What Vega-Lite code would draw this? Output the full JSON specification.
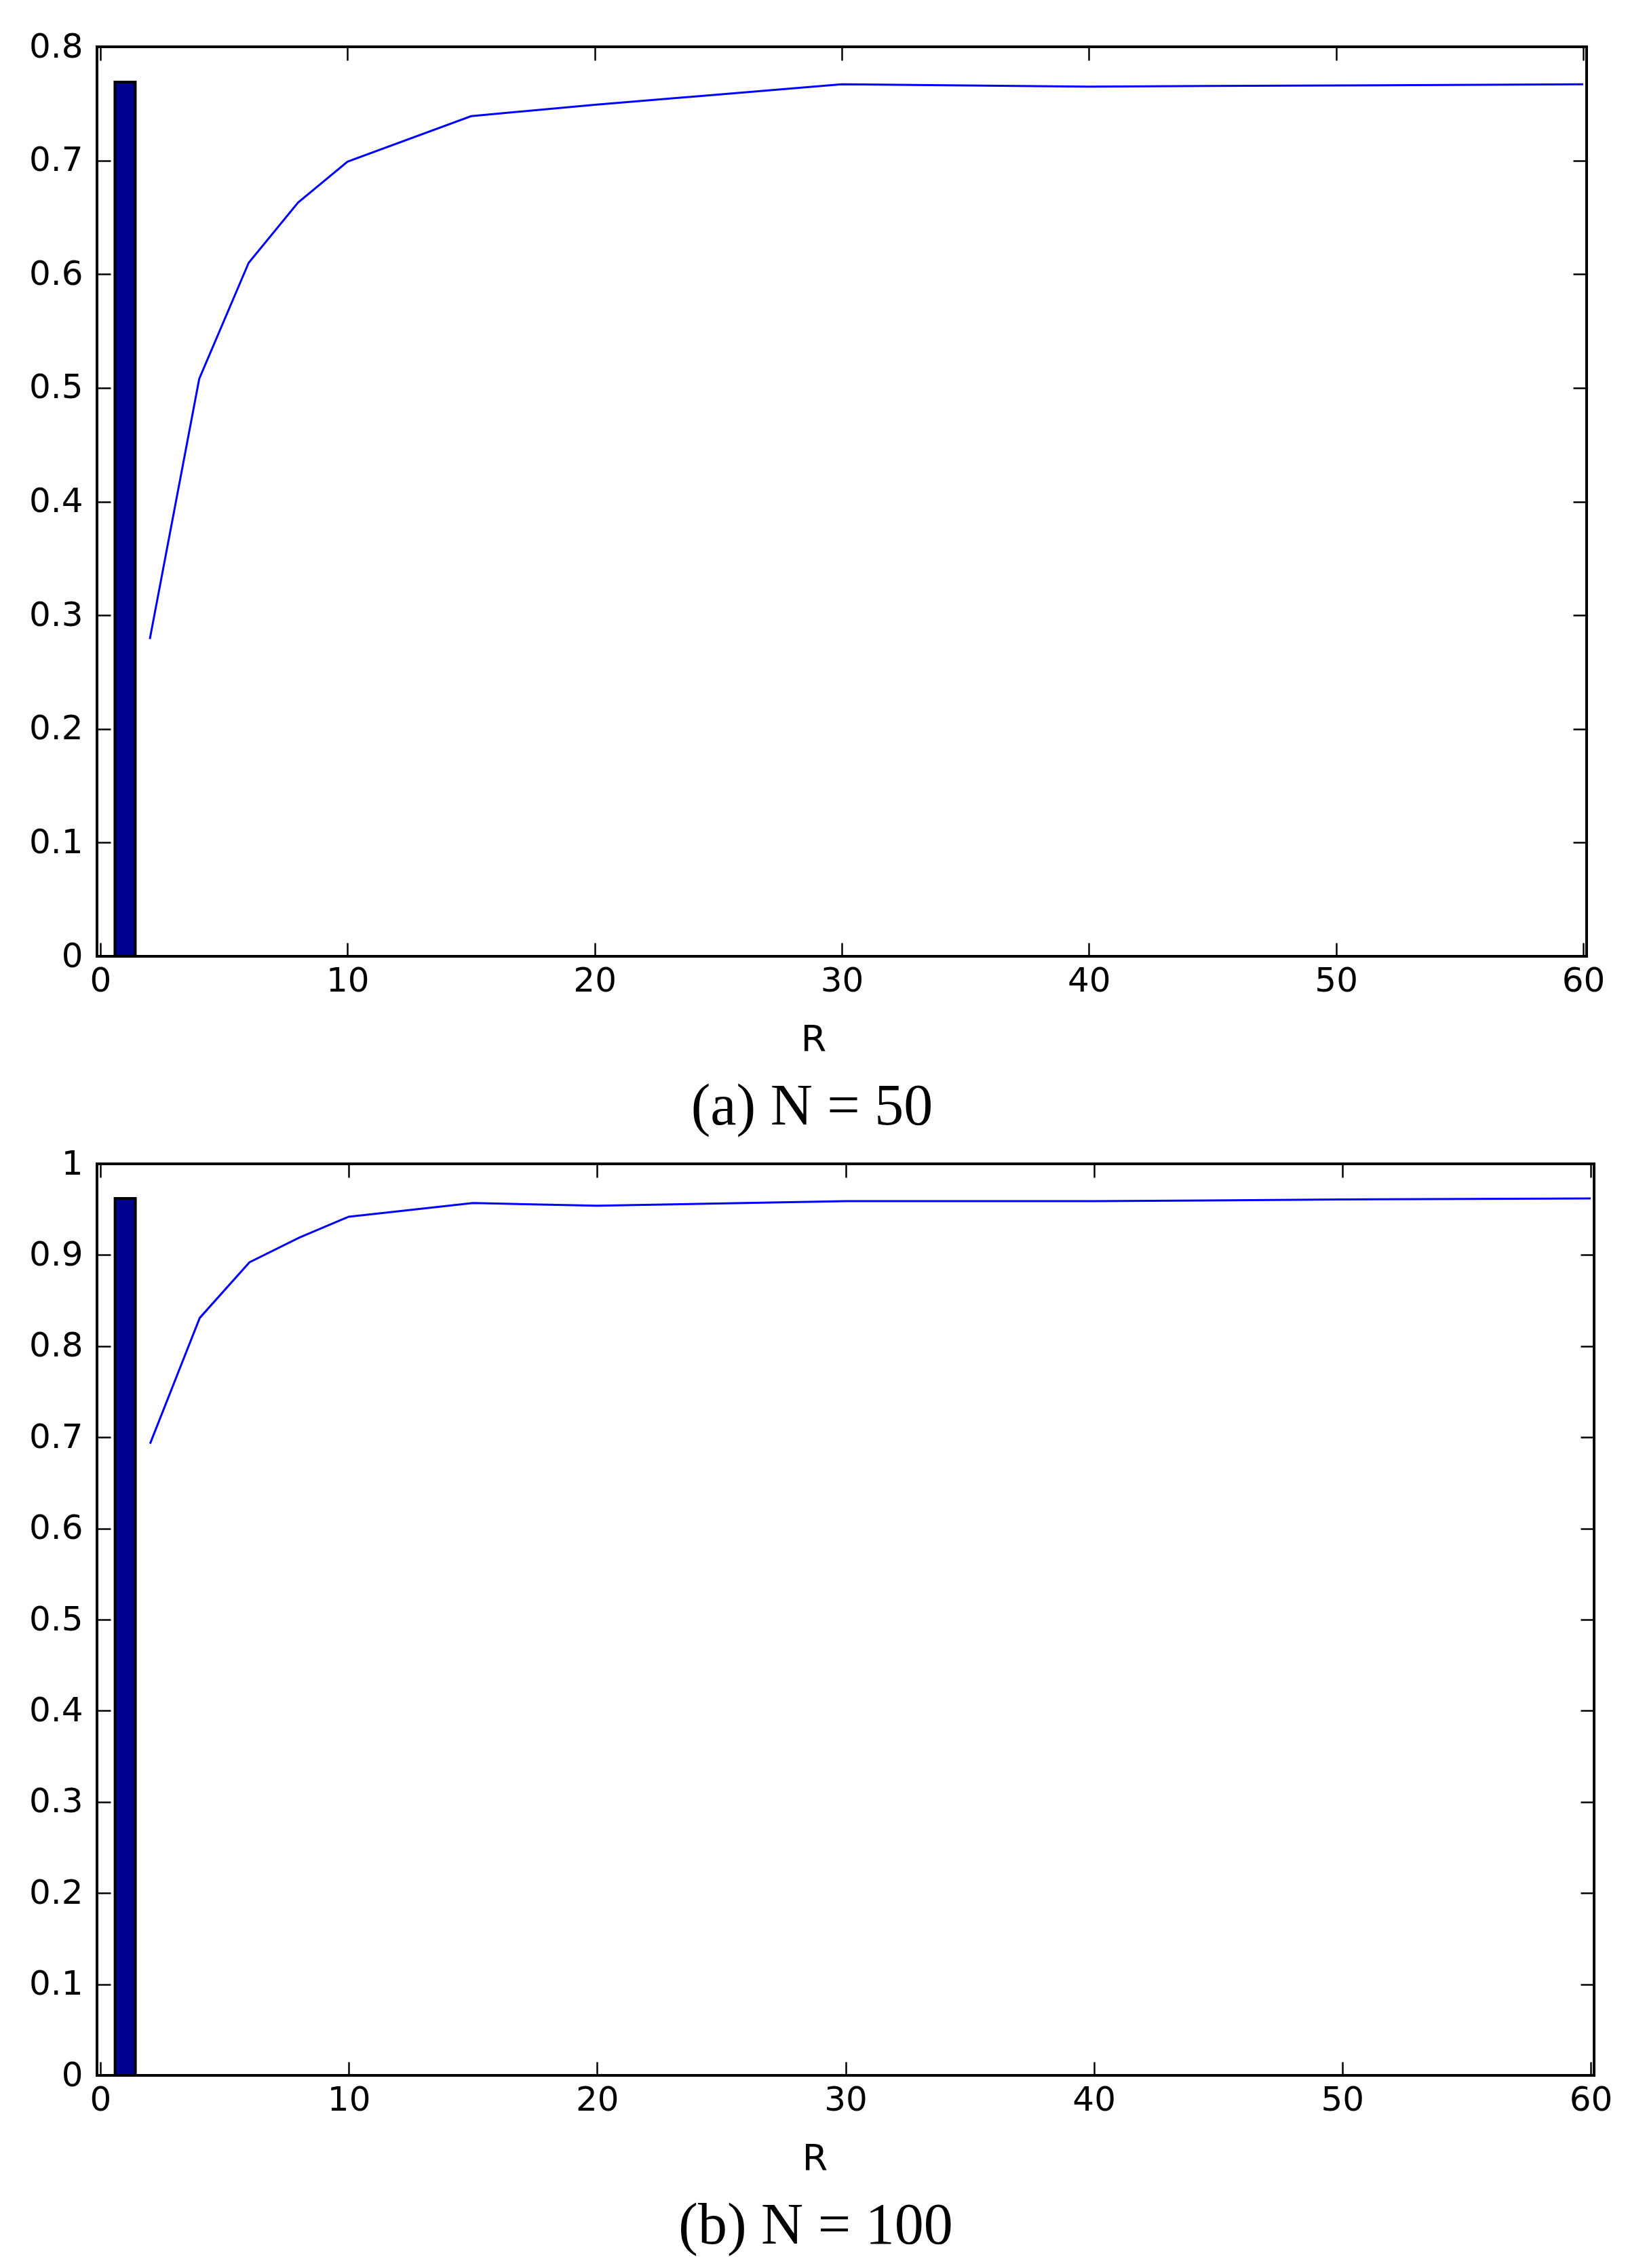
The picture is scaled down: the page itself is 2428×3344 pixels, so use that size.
{
  "$schema": "https://vega.github.io/schema/vega-lite/v6.json",
  "padding": {"left": 40, "top": 42, "right": 10, "bottom": 10},
  "background": "white",
  "spacing": 12,
  "config": {
    "view": {"stroke": "black", "strokeWidth": 4},
    "axis": {
      "domain": false,
      "grid": false,
      "ticks": true,
      "tickColor": "black",
      "tickWidth": 2.5,
      "tickSize": -20,
      "labelFont": "DejaVu Sans",
      "labelFontSize": 50,
      "labelColor": "black",
      "labelPadding": 41,
      "labelFlush": false,
      "format": "~f",
      "titleFont": "DejaVu Sans",
      "titleFontSize": 54,
      "titleFontWeight": "normal",
      "titleColor": "black"
    },
    "axisBottom": {"labelPadding": 31},
    "title": {"font": "Liberation Serif", "fontSize": 86, "fontWeight": "normal", "color": "black", "orient": "bottom", "offset": 30, "dx": -44}
  },
  "datasets": {
    "a_bar": [{"R": 1, "v": 0.769}],
    "a_curve": [
      {"R": 2, "v": 0.279},
      {"R": 4, "v": 0.508},
      {"R": 6, "v": 0.61},
      {"R": 8, "v": 0.663},
      {"R": 10, "v": 0.699},
      {"R": 15, "v": 0.739},
      {"R": 20, "v": 0.749},
      {"R": 30, "v": 0.767},
      {"R": 40, "v": 0.765},
      {"R": 50, "v": 0.766},
      {"R": 60, "v": 0.767}
    ],
    "b_bar": [{"R": 1, "v": 0.962}],
    "b_curve": [
      {"R": 2, "v": 0.693},
      {"R": 4, "v": 0.831},
      {"R": 6, "v": 0.892},
      {"R": 8, "v": 0.919},
      {"R": 10, "v": 0.942},
      {"R": 15, "v": 0.957},
      {"R": 20, "v": 0.954},
      {"R": 30, "v": 0.959},
      {"R": 40, "v": 0.959},
      {"R": 50, "v": 0.961},
      {"R": 60, "v": 0.962}
    ]
  },
  "vconcat": [
    {
      "width": 2196,
      "height": 1341,
      "title": {"text": "(a) N = 50"},
      "resolve": {"axis": {"x": "independent", "y": "independent"}},
      "layer": [
        {
          "data": {"name": "a_bar"},
          "mark": {"type": "bar", "orient": "vertical", "width": 30, "color": "#00008F", "stroke": "black", "strokeWidth": 4},
          "encoding": {
            "x": {"field": "R", "type": "quantitative", "scale": {"domain": [0, 60], "nice": false},
              "axis": {"values": [0, 10, 20, 30, 40, 50, 60], "title": "R", "titleX": 1056, "titlePadding": 35}},
            "y": {"field": "v", "type": "quantitative", "scale": {"domain": [0, 0.8], "nice": false},
              "axis": {"values": [0, 0.1, 0.2, 0.3, 0.4, 0.5, 0.6, 0.7, 0.8], "title": null}}
          }
        },
        {
          "data": {"name": "a_curve"},
          "mark": {"type": "line", "color": "#0000FF", "strokeWidth": 3},
          "encoding": {
            "x": {"field": "R", "type": "quantitative",
              "axis": {"orient": "top", "values": [0, 10, 20, 30, 40, 50, 60], "labels": false, "title": null}},
            "y": {"field": "v", "type": "quantitative",
              "axis": {"orient": "right", "values": [0, 0.1, 0.2, 0.3, 0.4, 0.5, 0.6, 0.7, 0.8], "labels": false, "title": null}}
          }
        }
      ]
    },
    {
      "width": 2207,
      "height": 1344,
      "title": {"text": "(b) N = 100"},
      "resolve": {"axis": {"x": "independent", "y": "independent"}},
      "layer": [
        {
          "data": {"name": "b_bar"},
          "mark": {"type": "bar", "orient": "vertical", "width": 30, "color": "#00008F", "stroke": "black", "strokeWidth": 4},
          "encoding": {
            "x": {"field": "R", "type": "quantitative", "scale": {"domain": [0, 60], "nice": false},
              "axis": {"values": [0, 10, 20, 30, 40, 50, 60], "title": "R", "titleX": 1058, "titlePadding": 35}},
            "y": {"field": "v", "type": "quantitative", "scale": {"domain": [0, 1], "nice": false},
              "axis": {"values": [0, 0.1, 0.2, 0.3, 0.4, 0.5, 0.6, 0.7, 0.8, 0.9, 1], "title": null}}
          }
        },
        {
          "data": {"name": "b_curve"},
          "mark": {"type": "line", "color": "#0000FF", "strokeWidth": 3},
          "encoding": {
            "x": {"field": "R", "type": "quantitative",
              "axis": {"orient": "top", "values": [0, 10, 20, 30, 40, 50, 60], "labels": false, "title": null}},
            "y": {"field": "v", "type": "quantitative",
              "axis": {"orient": "right", "values": [0, 0.1, 0.2, 0.3, 0.4, 0.5, 0.6, 0.7, 0.8, 0.9, 1], "labels": false, "title": null}}
          }
        }
      ]
    }
  ]
}
